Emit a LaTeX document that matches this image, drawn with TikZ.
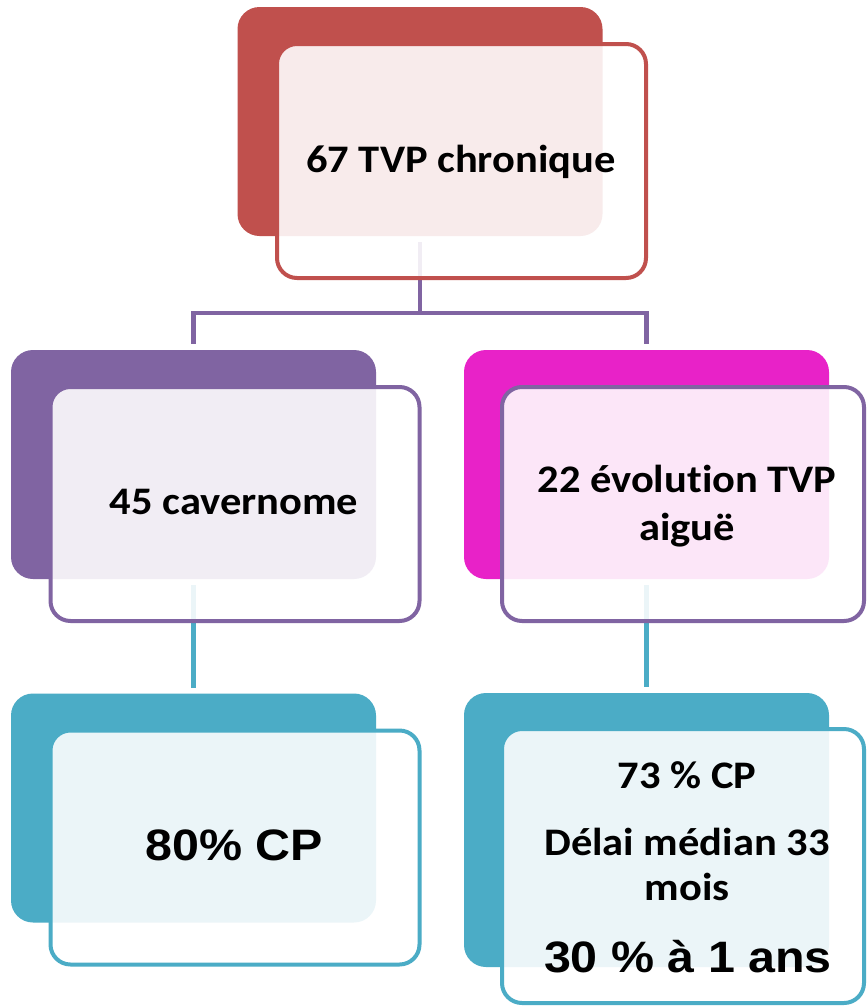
\documentclass[tikz,border=0pt]{standalone}
\usepackage{fontspec}
\usepackage{graphicx}
\setmainfont[Ligatures=NoCommon]{Carlito}
\newfontfamily\arialfont{Liberation Sans}
\definecolor{cred}{HTML}{C0504D}
\definecolor{cpurple}{HTML}{8064A2}
\definecolor{cmag}{HTML}{E822C8}
\definecolor{cteal}{HTML}{4BACC6}
\newcommand{\caltxt}[1]{{\bfseries\fontsize{39}{46}\selectfont\scalebox{1.09}[1]{#1}}}
\newcommand{\aritxt}[1]{{\arialfont\bfseries\fontsize{44}{50}\selectfont\scalebox{1.1}[1]{#1}}}
\tikzset{
  backbox/.style={rectangle, rounded corners=22pt, draw=none, fill=#1, minimum width=365pt, minimum height=229pt, inner sep=0pt, outer sep=0pt},
  frontbox/.style={rectangle, rounded corners=20pt, draw=#1, line width=4pt, fill=white, fill opacity=0.89, draw opacity=1, minimum width=369pt, minimum height=234pt, inner sep=0pt},
  conn/.style={draw=#1, line width=4.5pt, line cap=butt, line join=miter},
  txt/.style={inner sep=0pt, anchor=base, text=black}
}
\begin{document}
\begin{tikzpicture}[x=1pt, y=-1pt]
\useasboundingbox[fill=white] (0,0) rectangle (867,1007);
% back boxes
\node[backbox=cred] (tb) at (420,121.5) {};
\node[backbox=cpurple] (mlb) at (193.5,464.5) {};
\node[backbox=cmag] (mrb) at (646.5,464.5) {};
\node[backbox=cteal] (blb) at (193.5,808) {};
\node[backbox=cteal, minimum height=274pt] (brb) at (646.5,830) {};
% connectors
\draw[conn=cpurple] ([yshift=-6pt]tb.south) |- ([yshift=37pt]mlb.north) -- ([yshift=6pt]mlb.north);
\draw[conn=cpurple] ([yshift=-6pt]tb.south) |- ([yshift=37pt]mrb.north) -- ([yshift=6pt]mrb.north);
\draw[conn=cteal] ([yshift=-6pt]mlb.south) -- ([yshift=6pt]blb.north);
\draw[conn=cteal] ([yshift=-6pt]mrb.south) -- ([yshift=6pt]brb.north);
% front boxes
\node[frontbox=cred] (tf) at (461.5,161) {};
\node[frontbox=cpurple] (mlf) at (235,504) {};
\node[frontbox=cpurple, minimum width=362pt] (mrf) at (683,504) {};
\node[frontbox=cteal] (blf) at (235,847.5) {};
\node[frontbox=cteal, minimum width=362pt, minimum height=274pt] (brf) at (683,866) {};
% texts
\node[txt] (t1) at (461,172) {\caltxt{67 TVP chronique}};
\node[txt] (t2) at (234,514) {\caltxt{45 cavernome}};
\node[txt] (t3a) at (687,492) {\caltxt{22 évolut\kern0pt ion TVP}};
\node[txt] (t3b) at (687,540) {\caltxt{aiguë}};
\node[txt] (t4) at (234,860) {\aritxt{80\% CP}};
\node[txt] (t5a) at (687,788) {\caltxt{73 \% CP}};
\node[txt] (t5b) at (687,855) {\caltxt{Délai médian 33}};
\node[txt] (t5c) at (687,900) {\caltxt{mois}};
\node[txt] (t5d) at (688,972) {\aritxt{30 \% à 1 ans}};
\end{tikzpicture}
\end{document}
